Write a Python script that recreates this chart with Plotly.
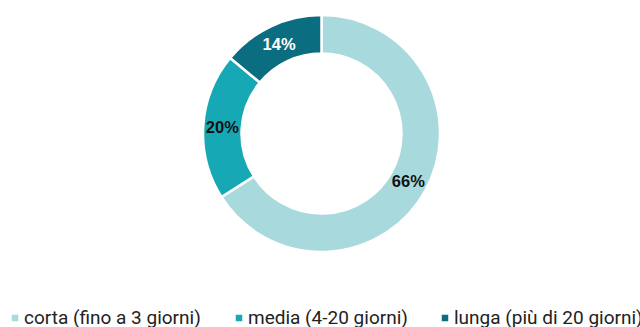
import plotly.graph_objects as go

categories = ["corta (fino a 3 giorni)", "media (4-20 giorni)", "lunga (più di 20 giorni)"]
values = [66, 20, 14]
colors = ["#a8d9dd", "#17a8b5", "#0a6d80"]
text_colors = ["#111111", "#111111", "#ffffff"]

W, H = 640, 327
M = dict(l=3, r=0, t=15, b=75)
legend_marker_px = [15, 239, 445]   # legend layout (pixels)
legend_y_px = 318
marker_size = 6.5

fig = go.Figure(go.Pie(
    labels=categories,
    values=values,
    hole=0.675,
    sort=False,
    direction="clockwise",
    rotation=0,
    marker=dict(colors=colors, line=dict(color="#ffffff", width=2.5)),
    texttemplate="%{value}%",
    textposition="inside",
    insidetextorientation="horizontal",
    insidetextfont=dict(family="Liberation Sans, Arial", size=16.5, color=text_colors, weight="bold"),
    hoverinfo="label+percent",
    showlegend=False,
))

pw = W - M["l"] - M["r"]
ph = H - M["t"] - M["b"]
def px_x(x):
    return (x - M["l"]) / pw
def px_y(y):
    return (H - M["b"] - y) / ph

annotations = []
shapes = []
for name, col, mx in zip(categories, colors, legend_marker_px):
    shapes.append(dict(
        type="rect", xref="paper", yref="paper",
        x0=px_x(mx - marker_size / 2), x1=px_x(mx + marker_size / 2),
        y0=px_y(legend_y_px + marker_size / 2), y1=px_y(legend_y_px - marker_size / 2),
        fillcolor=col, line=dict(width=0),
    ))
    annotations.append(dict(
        text=name, xref="paper", yref="paper",
        x=px_x(mx + marker_size / 2 + 4), y=px_y(legend_y_px - 1),
        xanchor="left", yanchor="middle", showarrow=False,
        font=dict(family="Roboto", size=19, color="#222222"),
    ))

fig.update_layout(
    width=W, height=H,
    margin=M,
    paper_bgcolor="#ffffff",
    plot_bgcolor="#ffffff",
    showlegend=False,
    shapes=shapes,
    annotations=annotations,
)

fig.write_html("out.html")
